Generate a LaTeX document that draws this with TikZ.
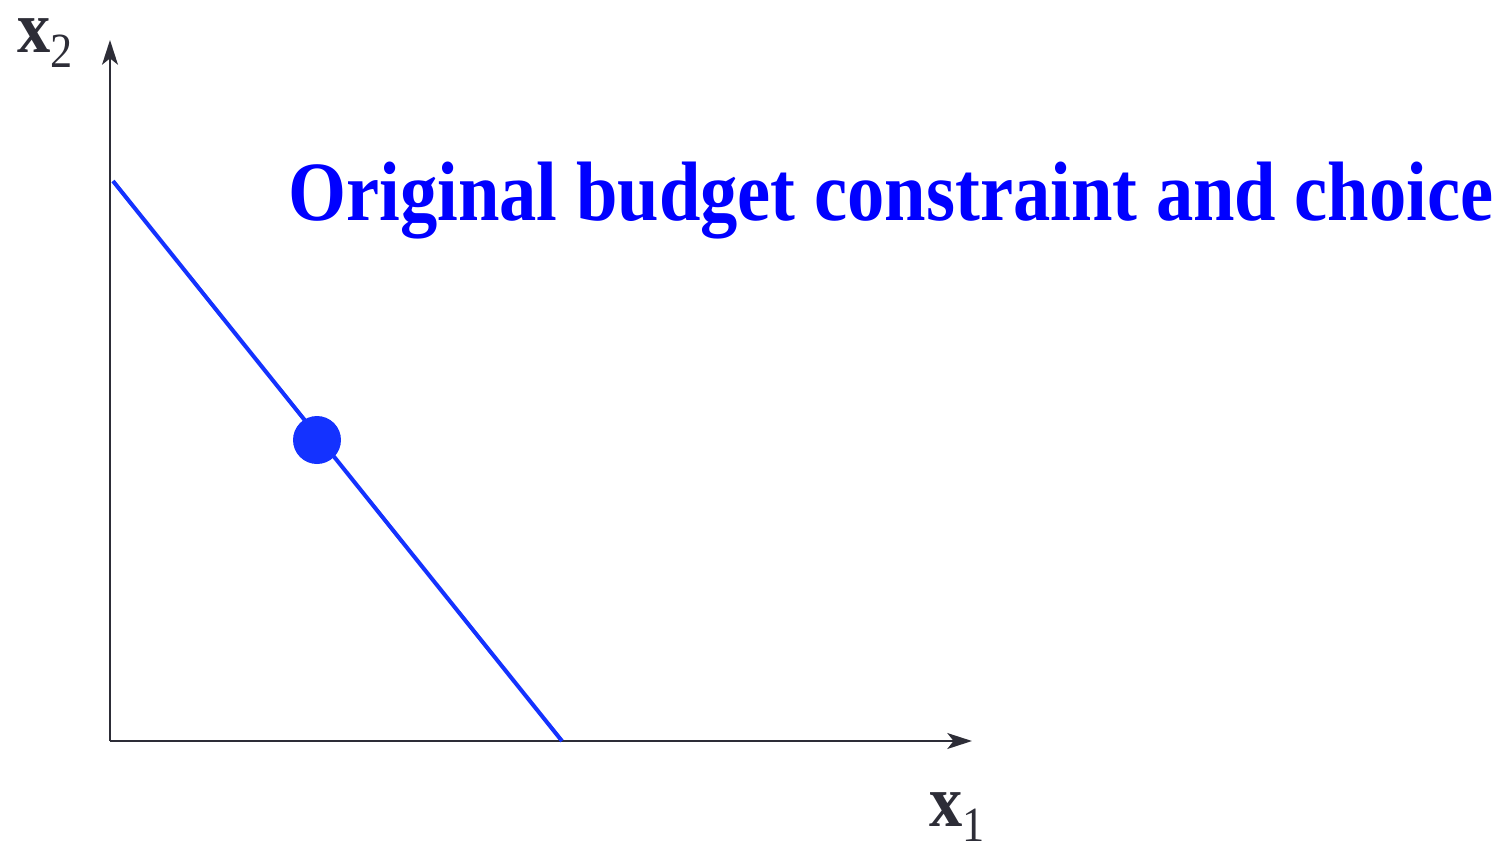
\documentclass[tikz,border=0pt]{standalone}
\usepackage{fontspec}
\setmainfont{Liberation Serif}
\newfontfamily\titlefont[FakeStretch=0.884]{Liberation Serif}
\newfontfamily\labelfont[FakeStretch=0.9]{Liberation Serif}
\usetikzlibrary{arrows.meta, positioning}

\definecolor{axisgray}{RGB}{45,45,55}
\definecolor{budgetblue}{RGB}{20,50,255}
\definecolor{titleblue}{RGB}{0,0,255}

\begin{document}
\begin{tikzpicture}[
    x=0.02cm, y=-0.02cm,
    >={Stealth[length=14pt, width=9pt, inset=3.5pt]},
    axis/.style={draw=axisgray, line width=1.4pt},
    budget/.style={draw=budgetblue, line width=2.3pt},
    choice/.style={circle, fill=budgetblue, inner sep=0pt, minimum size=0.96cm},
    axislabel/.style={text=axisgray, font=\labelfont\fontsize{42}{42}\selectfont\bfseries, inner sep=0pt}
]
\useasboundingbox (0,0) rectangle (1502,850);

% axes
\coordinate (O) at (110,741);
\coordinate (ytop) at (110,40);
\coordinate (xend) at (972,741);
\draw[axis, ->] (O) -- (ytop);
\draw[axis, ->] (O) -- (xend);
\node[axislabel] (xtwo) at (45,43) {x\raisebox{-9pt}{\fontsize{28}{28}\selectfont\mdseries 2}};
\node[axislabel] (xone) at (957,817) {x\raisebox{-9pt}{\fontsize{28}{28}\selectfont\mdseries 1}};

% budget line and chosen bundle
\coordinate (b2) at (113,181);
\coordinate (b1) at (562,741);
\draw[budget] (b2) -- (b1);
\node[choice] (pt) at (317,440) {};

% title
\node[text=titleblue, font=\titlefont\fontsize{48}{50}\selectfont\bfseries, anchor=base west, inner sep=0pt] (title) at (288,220) {Original budget constraint and choice};
\end{tikzpicture}
\end{document}
